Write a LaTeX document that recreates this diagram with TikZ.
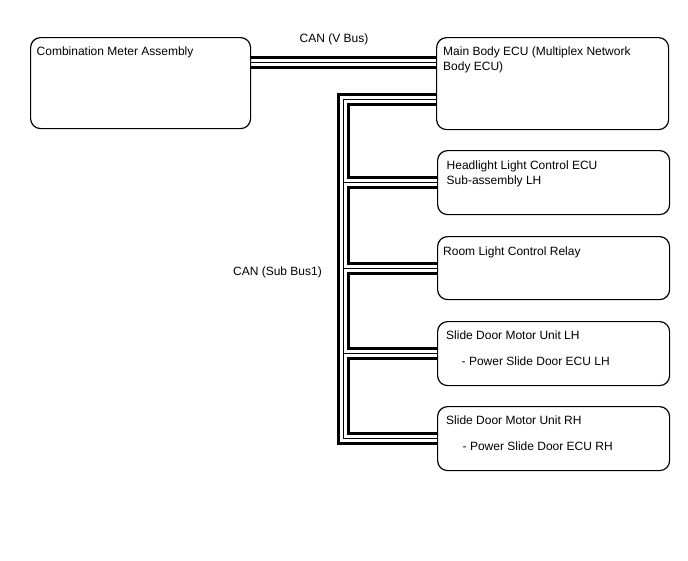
\documentclass[tikz,border=0pt]{standalone}
\usepackage{fontspec}
\setmainfont{Liberation Sans}
\usetikzlibrary{calc,positioning,backgrounds}

\tikzset{
  ecubox/.style={draw=black,line width=1.2pt,rounded corners=10pt,fill=white,
    anchor=north west,inner sep=0pt},
  ecutext/.style={anchor=north west,inner sep=0pt,align=left,
    font=\fontsize{12}{15}\selectfont},
  buslabel/.style={anchor=base,inner sep=0pt,font=\fontsize{12}{14}\selectfont},
}

\begin{document}
\begin{tikzpicture}[x=1pt,y=-1pt]
    \useasboundingbox (0,0) rectangle (688,560);
    % bus coordinates
    \coordinate (vbus) at (0,62);
    \coordinate (subtop) at (343,99);
    % boxes
    \path
      (30,37) node[ecubox,minimum width=220pt,minimum height=91pt] (meter) {}
      (436,37) node[ecubox,minimum width=232pt,minimum height=92pt] (mainecu) {}
      (437,150) node[ecubox,minimum width=232pt,minimum height=64pt] (headlight) {}
      (437,236) node[ecubox,minimum width=232pt,minimum height=63pt] (roomlight) {}
      (437,321) node[ecubox,minimum width=232pt,minimum height=64pt] (doorlh) {}
      (437,406) node[ecubox,minimum width=232pt,minimum height=64pt] (doorrh) {};
    % CAN buses: black, white and thin black layer on top of each other
    \begin{pgfonlayer}{background}
      \foreach \w/\c in {13pt/black,7pt/white,1pt/black}{
        \draw[line width=\w,\c] (meter.east |- vbus) -- (mainecu.west |- vbus);
        \draw[line width=\w,\c] (mainecu.west |- subtop) -- (subtop) |- (doorrh.west);
        \foreach \ecu in {headlight,roomlight,doorlh}
          \draw[line width=\w,\c] (subtop |- \ecu.west) -- (\ecu.west);
      }
    \end{pgfonlayer}
    % texts
    \node[ecutext] (meter-txt) at ($(meter.north west)+(6.5,9.5)$) {Combination Meter Assembly};
    \node[ecutext] (mainecu-txt) at ($(mainecu.north west)+(7,9.5)$)
      {Main Body ECU (Multiplex Network\\Body ECU)};
    \node[ecutext] (headlight-txt) at ($(headlight.north west)+(9.5,10.5)$)
      {Headlight Light Control ECU\\Sub-assembly LH};
    \node[ecutext] (roomlight-txt) at ($(roomlight.north west)+(6,10.5)$)
      {Room Light Control Relay};
    \node[ecutext] (doorlh-txt) at ($(doorlh.north west)+(9,9.5)$)
      {Slide Door Motor Unit LH\\[11pt]\hspace{15.5pt}- Power Slide Door ECU LH};
    \node[ecutext] (doorrh-txt) at ($(doorrh.north west)+(9,9.5)$)
      {Slide Door Motor Unit RH\\[11pt]\hspace{16.5pt}- Power Slide Door ECU RH};
    \node[buslabel] (vbus-lbl) at (334,42) {CAN (V Bus)};
    \node[buslabel] (subbus-lbl) at (277.5,275) {CAN (Sub Bus1)};
  \end{tikzpicture}
\end{document}
